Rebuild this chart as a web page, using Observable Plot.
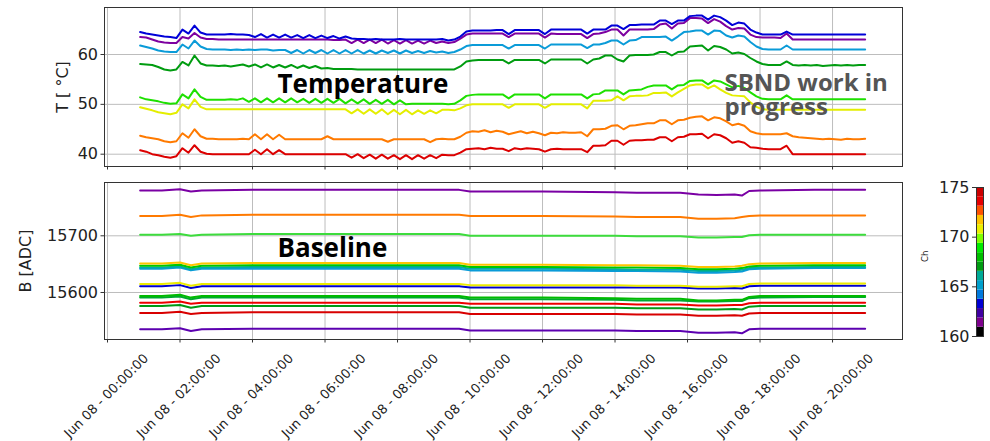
<!DOCTYPE html>
<html><head><meta charset="utf-8">
<script src="https://cdn.jsdelivr.net/npm/d3@7"></script>
<script src="https://cdn.jsdelivr.net/npm/@observablehq/plot@0.6"></script>
<style>
body{margin:0;background:#fff;}
#wrap{position:relative;width:990px;height:441px;overflow:hidden;background:#fff;font-family:"DejaVu Sans";}
.panel{position:absolute;}
</style></head><body><div id="wrap">
<div id="top" class="panel" style="left:0;top:0"></div>
<div id="bot" class="panel" style="left:0;top:175px"></div>
<div id="cb" class="panel" style="left:900px;top:175px"></div>
</div>
<script>
// ---------- DATA ----------
const DAY_START = Date.UTC(2022, 5, 8); // Jun 08
const X_TICK_HOURS = [0, 2, 4, 6, 8, 10, 12, 14, 16, 18, 20];
const T_TICKS = [40, 50, 60];
const B_TICKS = [15600, 15700];
const CB_TICKS = [160, 165, 170, 175];

// temperature samples: 10-minute steps from 00:54 to 20:54
const T_HOURS = d3.range(121).map(i => 0.9 + i / 6);

const T_BLUE = [
64.5,64.2,64.0,63.8,63.6,63.5,63.3,65.0,64.2,65.8,64.4,64.0,
64.0,64.0,64.0,64.1,64.0,64.0,63.9,63.5,64.1,63.4,64.0,63.4,
64.0,63.4,63.9,63.3,63.9,63.3,63.8,63.3,63.7,63.2,63.6,63.2,
63.1,63.1,63.0,63.1,63.0,63.0,63.0,63.1,63.0,63.0,63.0,63.0,
63.0,63.0,63.1,62.8,63.0,63.6,64.6,64.8,64.8,64.8,64.8,64.9,
64.9,64.1,64.9,64.9,64.9,64.9,64.9,64.1,65.0,65.0,65.0,65.0,
65.0,65.0,64.2,65.0,65.0,65.0,65.8,65.8,65.1,65.9,65.9,66.0,
66.0,66.0,66.8,66.8,66.1,66.8,66.8,67.7,67.8,67.8,67.0,67.8,
67.5,66.8,65.9,66.4,66.2,65.0,64.4,64.0,64.0,64.0,64.0,64.6,
64.0,64.0,64.0,64.0,64.0,64.0,64.0,64.0,64.0,64.0,64.0,64.0,64.0];
const T_PURPLE = [
63.5,63.4,63.0,62.6,62.4,62.3,62.3,63.5,63.2,64.3,63.4,63.1,
63.1,63.0,63.0,63.0,63.0,63.0,63.0,63.0,63.0,63.0,63.0,63.0,
63.0,63.0,63.0,63.0,63.0,63.0,63.0,63.0,62.9,62.9,63.0,62.3,
63.0,62.3,63.0,62.3,63.0,62.2,62.9,62.2,62.9,62.2,62.8,62.2,
62.8,62.3,62.6,62.3,62.5,63.2,64.0,64.2,64.2,64.2,64.2,64.2,
64.2,63.5,64.2,64.2,64.2,64.2,64.2,63.4,64.2,64.1,64.1,64.1,
64.1,64.1,63.3,64.1,64.2,64.5,65.0,65.0,63.8,65.0,65.0,65.0,
65.0,65.1,66.0,66.2,65.2,66.2,66.3,67.3,67.3,67.2,66.3,67.1,
66.6,65.7,65.0,65.3,65.2,64.0,63.5,63.4,63.4,63.4,63.3,64.2,
63.0,63.0,63.0,63.0,63.0,63.0,63.0,63.0,63.0,63.0,63.0,63.0,63.0];
const T_LIGHTBLUE = [
61.8,61.5,61.2,60.8,60.6,60.5,60.5,62.0,61.2,62.8,61.6,61.1,
61.0,61.0,61.0,60.9,61.0,60.9,61.0,60.9,61.0,61.0,60.8,60.9,
60.9,60.3,60.9,60.2,60.9,60.3,60.9,60.2,60.9,60.2,60.9,60.2,
60.9,60.2,60.8,60.2,60.8,60.3,60.8,60.2,60.8,60.3,60.7,60.3,
60.7,60.4,60.6,60.3,60.5,61.0,61.7,61.9,61.9,61.9,61.9,61.9,
61.9,61.2,61.9,61.9,61.9,61.9,61.9,61.2,62.0,62.0,62.0,62.0,
62.0,62.0,61.3,62.0,62.0,62.3,62.8,62.8,62.0,62.8,62.9,63.5,
63.5,63.5,63.5,63.6,62.8,63.6,64.5,64.6,64.8,64.8,64.0,64.8,
64.7,63.8,63.4,63.8,63.6,62.5,61.6,61.1,61.0,61.0,61.0,61.8,
61.0,61.0,61.0,61.0,61.0,61.0,61.0,61.0,61.0,61.0,61.0,61.0,61.0];
const T_DARKGREEN = [
58.1,58.0,57.9,57.5,57.0,56.8,57.0,58.5,57.8,59.8,58.2,57.8,
57.8,57.7,57.8,57.6,57.8,58.0,57.6,58.0,57.4,58.0,57.4,57.9,
57.4,57.9,57.3,57.8,57.3,57.7,57.2,57.3,57.1,57.1,57.1,57.1,
57.0,57.0,57.0,57.0,57.0,57.0,57.0,57.0,57.0,57.0,57.0,57.0,
57.0,57.0,57.0,57.0,57.0,57.6,58.6,58.8,58.9,58.9,58.9,58.9,
58.9,58.2,58.9,58.9,58.9,58.9,58.9,58.2,59.0,59.0,59.0,59.0,
59.0,59.0,58.2,59.0,59.2,59.8,59.8,59.0,58.6,59.8,59.9,59.9,
59.9,60.0,60.5,60.5,59.8,60.5,60.6,61.6,61.7,61.8,60.8,61.7,
61.5,61.0,60.2,60.4,60.1,59.3,58.6,58.1,57.9,57.9,57.9,58.6,
57.9,57.8,57.9,57.8,57.9,57.7,57.8,57.9,57.8,57.9,57.8,57.9,57.9];
const T_GREEN = [
51.4,51.0,50.8,50.6,50.3,50.1,50.2,52.0,51.2,53.0,51.5,50.9,
50.9,50.9,50.9,51.0,50.9,51.2,50.5,51.2,50.4,51.2,50.4,51.2,
50.4,51.2,50.4,51.1,50.3,51.1,50.3,51.1,50.3,51.1,50.2,51.0,
50.2,51.0,50.1,50.9,50.1,50.9,50.0,50.8,50.0,50.1,50.1,50.1,
50.1,50.1,50.1,50.0,50.1,50.8,51.7,51.9,52.0,52.0,52.0,52.0,
52.0,51.2,52.0,52.0,52.0,52.0,52.0,51.2,52.0,52.0,52.0,52.0,
52.0,52.0,51.2,52.0,52.1,52.8,52.8,52.8,52.0,52.8,52.9,53.0,
53.5,53.8,53.8,53.8,53.0,53.8,53.9,54.7,54.8,54.8,54.0,54.8,
54.6,54.0,53.4,53.7,53.3,52.4,51.6,51.1,51.0,51.0,51.0,51.8,
51.0,51.0,51.0,51.0,51.0,51.0,51.0,51.0,51.0,51.0,51.0,51.0,51.0];
const T_YELLOW = [
49.4,49.1,48.8,48.4,48.2,48.0,48.3,50.0,49.2,51.0,49.5,49.0,
49.0,49.0,49.0,49.0,49.0,49.0,49.0,49.0,49.0,49.0,49.0,49.0,
49.0,49.0,49.0,49.0,49.0,49.0,49.0,49.0,49.0,49.0,49.0,48.2,
49.0,48.1,49.0,48.1,49.0,48.0,48.9,48.0,48.9,48.0,48.8,48.1,
48.8,48.2,48.9,48.9,48.8,49.2,49.8,50.0,50.0,50.0,50.0,50.0,
50.0,49.3,50.0,50.0,50.0,50.0,50.0,49.3,50.0,50.0,50.0,50.0,
50.0,50.0,49.2,50.7,50.7,50.7,50.8,51.6,50.8,51.6,51.7,51.7,
51.8,52.3,52.3,52.4,51.6,52.4,53.1,53.8,54.0,54.0,53.2,53.8,
53.0,52.3,51.8,51.7,51.6,50.4,49.5,49.0,48.9,48.9,48.9,48.9,
48.9,48.9,48.9,48.9,48.9,48.9,48.9,48.9,48.9,48.9,48.9,48.9,48.9];
const T_ORANGE = [
43.7,43.4,43.2,43.0,42.6,42.4,42.6,44.2,43.3,45.0,43.6,43.1,
43.1,43.0,43.0,43.0,43.0,43.1,43.0,44.0,43.0,44.0,43.0,43.9,
43.0,43.0,43.0,43.0,43.0,43.0,43.0,43.6,43.0,43.0,43.0,43.0,
43.0,43.0,43.0,43.0,43.0,42.5,43.0,43.0,43.0,43.0,43.0,43.0,
42.4,43.0,43.1,43.0,43.0,43.5,44.3,44.6,44.5,44.8,44.4,44.7,
44.5,44.0,44.3,44.6,44.2,44.5,44.2,43.8,44.3,44.2,44.4,44.3,
44.3,44.4,43.6,45.0,45.0,45.1,45.7,45.8,45.0,45.7,45.8,46.0,
46.2,46.2,46.8,46.8,46.0,46.8,46.9,47.3,47.5,47.6,46.8,47.4,
47.2,46.6,45.8,46.1,45.7,44.6,44.2,44.0,44.0,44.0,44.0,44.2,
43.6,43.4,43.3,43.2,43.1,43.0,43.1,43.0,42.9,43.1,43.0,43.0,43.1];
const T_RED = [
40.8,40.5,40.0,39.8,39.5,39.3,39.6,41.2,40.3,41.8,40.5,40.1,
40.0,40.0,40.0,40.0,40.0,40.0,40.0,40.9,40.0,41.0,40.0,40.8,
40.0,40.0,40.0,40.0,40.0,40.0,40.0,40.0,40.0,40.0,40.0,39.3,
40.0,39.2,39.9,39.1,39.9,39.1,39.8,39.0,39.8,39.0,39.8,39.1,
39.8,39.2,39.9,39.8,39.8,40.3,41.0,41.1,41.2,41.0,41.3,41.1,
41.1,40.6,41.2,41.0,41.2,41.1,41.0,40.5,41.0,41.1,41.0,41.0,
41.0,41.0,40.4,41.7,41.7,41.8,42.7,42.7,41.9,42.7,42.8,42.8,
42.9,42.9,43.4,43.4,42.6,43.4,43.5,44.0,44.0,44.1,43.2,44.0,
43.8,43.2,42.3,42.6,42.3,41.4,41.3,41.1,41.0,41.0,41.0,41.7,
40.0,40.0,40.0,40.0,40.0,40.0,40.0,40.0,40.0,40.0,40.0,40.0,40.0];

// baseline samples (hours after midnight)
const B_HOURS = [0.9,1.5,2.0,2.3,2.6,4,6,8,9.7,10.0,12,14,14.6,15.8,16.3,16.8,17.3,17.5,17.7,18.0,19.5,20.9];
const B_PURPLE_HI = [15780,15780,15782,15778,15780,15781,15781,15781,15781,15778,15778,15777,15776,15776,15773,15772,15773,15771,15779,15780,15781,15781];
const B_ORANGE    = [15735,15735,15737,15733,15736,15737,15737,15737,15737,15735,15735,15734,15733,15733,15730,15730,15731,15733,15735,15736,15736,15736];
const B_LIME      = [15702,15702,15703,15700,15702,15703,15703,15703,15703,15700,15700,15700,15699,15699,15697,15697,15698,15698,15701,15702,15702,15702];
const B_GOLD      = [15651,15651,15653,15648,15651,15652,15652,15652,15652,15649,15649,15648,15648,15647,15645,15645,15646,15647,15650,15651,15652,15652];
const B_GREEN_A   = [15647,15647,15649,15644,15647,15648,15648,15648,15648,15645,15645,15644,15644,15643,15641,15641,15642,15643,15646,15647,15648,15648];
const B_TEAL      = [15644,15644,15646,15641,15644,15645,15645,15645,15645,15642,15642,15641,15640,15640,15638,15638,15639,15640,15643,15644,15645,15645];
const B_LIGHTBLUE = [15642,15642,15644,15639,15642,15642,15642,15642,15642,15639,15639,15638,15638,15637,15635,15635,15636,15637,15641,15642,15643,15643];
const B_YELLOW    = [15615,15615,15617,15612,15615,15615,15615,15615,15615,15613,15613,15613,15612,15612,15610,15610,15611,15611,15615,15616,15616,15616];
const B_BLUE      = [15611,15611,15613,15608,15611,15611,15611,15611,15611,15609,15609,15609,15609,15609,15607,15607,15608,15607,15611,15612,15612,15612];
const B_GREEN_B   = [15594,15594,15596,15591,15594,15594,15594,15594,15594,15591,15591,15590,15589,15589,15586,15586,15587,15587,15592,15594,15594,15594];
const B_GREEN_C   = [15591,15591,15593,15588,15591,15591,15591,15591,15591,15588,15588,15587,15586,15586,15584,15584,15585,15585,15590,15591,15592,15592];
const B_RED_A     = [15582,15582,15584,15580,15582,15582,15582,15582,15582,15580,15580,15580,15579,15579,15577,15577,15578,15578,15581,15582,15582,15582];
const B_DARKGREEN = [15576,15576,15578,15573,15576,15576,15576,15576,15576,15573,15573,15573,15572,15572,15570,15570,15571,15570,15575,15576,15576,15576];
const B_RED_B     = [15564,15564,15566,15562,15564,15565,15565,15565,15565,15562,15562,15562,15561,15561,15559,15559,15560,15559,15563,15564,15564,15564];
const B_PURPLE_LO = [15535,15535,15537,15532,15535,15536,15536,15536,15536,15533,15533,15533,15532,15532,15529,15529,15530,15528,15535,15536,15536,15536];

// ---------- STYLE ----------
const CMAP = ["#000000","#7c008c","#3f00a2","#0000d3","#0079dd","#009fcc","#00aa96","#009b12",
              "#00bf00","#00eb00","#7dff00","#eaef00","#ffc200","#ff5200","#e60000","#cc0000"];
const GRID = "#bdbdbd", INK = "#222", FRAME = "#333";
const hour = h => new Date(DAY_START + h * 3600000);
const fmt = d3.utcFormat("%b %d - %H:%M:%S");
const xTicks = X_TICK_HOURS.map(hour);
const xDomain = [hour(-0.083), hour(21.93)];
const intFmt = d => String(d);

const tempSeries = [
  [T_RED, "#dc0000"], [T_ORANGE, "#ff7a00"], [T_YELLOW, "#e4ee00"], [T_GREEN, "#1ee000"],
  [T_DARKGREEN, "#009c10"], [T_LIGHTBLUE, "#0a9bd8"], [T_PURPLE, "#7d00a0"], [T_BLUE, "#0000d8"]
];
const baseSeries = [
  [B_PURPLE_HI, "#7a00a4"], [B_ORANGE, "#ff7a00"], [B_LIME, "#3ddc3d"], [B_LIGHTBLUE, "#0a9bd8"],
  [B_TEAL, "#00aaa8"], [B_GREEN_A, "#00c800"], [B_GOLD, "#ffc400"], [B_BLUE, "#0000d0"],
  [B_YELLOW, "#ecec00"], [B_GREEN_C, "#00a830"], [B_GREEN_B, "#00bb00"], [B_RED_A, "#ee0000"],
  [B_DARKGREEN, "#009a14"], [B_RED_B, "#d80000"], [B_PURPLE_LO, "#5c00b0"]
];
const lineMarks = (hours, series) => series.map(([vals, color]) =>
  Plot.lineY(vals, {x: (d, i) => hour(hours[i]), y: d => d, stroke: color, strokeWidth: 2}));

const svgStyle = {background: "transparent", overflow: "visible", fontFamily: "DejaVu Sans", color: INK};
const yLabel = (text, dx) => Plot.text([text], {frameAnchor: "left", text: d => d, rotate: -90,
  dx, fontSize: 16, fill: INK, lineAnchor: "middle", textAnchor: "middle"});

// ---------- TOP PANEL ----------
const topPlot = Plot.plot({
  width: 910, height: 175, marginLeft: 104, marginRight: 8, marginTop: 7, marginBottom: 9,
  style: svgStyle,
  x: {type: "utc", domain: xDomain},
  y: {domain: [37.53, 69.43]},
  marks: [
    Plot.gridX(xTicks, {stroke: GRID, strokeOpacity: 1, strokeWidth: 1}),
    Plot.gridY(T_TICKS, {stroke: GRID, strokeOpacity: 1, strokeWidth: 1}),
    ...lineMarks(T_HOURS, tempSeries),
    Plot.text(["Temperature"], {x: () => hour(4.69), y: () => 52.35, text: d => d, textAnchor: "start",
      lineAnchor: "bottom", fontSize: 26, fontWeight: "bold", fontFamily: "Open Sans", fill: "#000"}),
    Plot.text(["SBND work in\nprogress"], {x: () => hour(17.02), y: () => 47.83, text: d => d, textAnchor: "start",
      lineAnchor: "bottom", lineHeight: 1.0, fontSize: 24, fontWeight: "bold", fontFamily: "Open Sans", fill: "#555"}),
    Plot.frame({stroke: FRAME, strokeWidth: 1}),
    Plot.axisY(T_TICKS, {tickSize: 3.5, tickPadding: 3, fontSize: 16, stroke: FRAME, tickFormat: intFmt, label: null}),
    yLabel("T [ °C]", -42),
    Plot.axisX(xTicks, {tickSize: 3.5, stroke: FRAME, tickFormat: () => "", label: null})
  ]
});
document.getElementById("top").append(topPlot);

// ---------- BOTTOM PANEL ----------
const botPlot = Plot.plot({
  width: 910, height: 266, marginLeft: 104, marginRight: 8, marginTop: 7, marginBottom: 102,
  style: svgStyle,
  x: {type: "utc", domain: xDomain},
  y: {domain: [15517.1, 15794]},
  marks: [
    Plot.gridX(xTicks, {stroke: GRID, strokeOpacity: 1, strokeWidth: 1}),
    Plot.gridY(B_TICKS, {stroke: GRID, strokeOpacity: 1, strokeWidth: 1}),
    ...lineMarks(B_HOURS, baseSeries),
    Plot.text(["Baseline"], {x: () => hour(4.69), y: () => 15662.3, text: d => d, textAnchor: "start",
      lineAnchor: "bottom", fontSize: 26, fontWeight: "bold", fontFamily: "Open Sans", fill: "#000"}),
    Plot.frame({stroke: FRAME, strokeWidth: 1}),
    Plot.axisY(B_TICKS, {tickSize: 3.5, tickPadding: 3, fontSize: 16, stroke: FRAME, tickFormat: intFmt, label: null}),
    yLabel("B [ADC]", -78.5),
    Plot.axisX(xTicks, {tickSize: 3.5, stroke: FRAME, tickFormat: () => "", label: null}),
    Plot.text(xTicks, {x: d => d, frameAnchor: "bottom", text: d => fmt(d), rotate: -45,
      textAnchor: "end", lineAnchor: "top", fontSize: 13, fill: INK, dx: 35, dy: 13})
  ]
});
document.getElementById("bot").append(botPlot);

// ---------- COLORBAR ----------
const CB = CMAP.map((c, k) => ({lo: 160 + k * 15 / 16, hi: 160 + (k + 1) * 15 / 16, c}));
const cbPlot = Plot.plot({
  width: 90, height: 170, marginLeft: 76, marginRight: 7, marginTop: 12, marginBottom: 9,
  style: svgStyle,
  x: {domain: [0, 1], axis: null},
  y: {domain: [160, 175]},
  color: {type: "identity"},
  marks: [
    Plot.rect(CB, {x1: () => 0, x2: () => 1, y1: "lo", y2: "hi", fill: "c"}),
    Plot.frame({stroke: FRAME, strokeWidth: 1}),
    Plot.axisY(CB_TICKS, {tickSize: 4, tickPadding: 3, fontSize: 16, stroke: FRAME, tickFormat: intFmt, label: null}),
    Plot.text(["Ch"], {frameAnchor: "left", text: d => d, rotate: -90, dx: -51, fontSize: 8.5, fill: INK})
  ]
});
document.getElementById("cb").append(cbPlot);
</script>
</body></html>
